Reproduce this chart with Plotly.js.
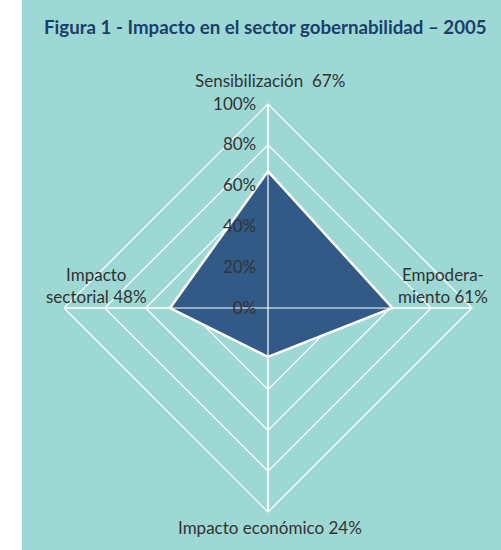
<!DOCTYPE html>
<html>
<head>
<meta charset="utf-8">
<script src="https://cdn.plot.ly/plotly-3.0.1.min.js"></script>
<style>
html,body{margin:0;padding:0;background:#ffffff;}
#chart{position:absolute;left:22px;top:0;width:479px;height:550px;}
</style>
</head>
<body>
<div id="chart"></div>
<script>
var categories = ['Sensibilización', 'Empoderamiento', 'Impacto económico', 'Impacto sectorial'];
var values = [67, 61, 24, 48];
var labelTexts = ['Sensibilización  67%', 'Empodera-<br>miento 61%', 'Impacto económico 24%', 'Impacto<br>sectorial 48%'];
var tickVals = [0, 20, 40, 60, 80, 100];
var tickLabels = ['0%', '20%', '40%', '60%', '80%', '100%'];
var titleText = 'Figura 1 - Impacto en el sector gobernabilidad – 2005';

var teal = '#9dd8d5';
var fillBlue = '#325a87';
var textColor = '#333333';

var traces = [{
  type: 'scatterpolar',
  r: values.concat([values[0]]),
  theta: categories.concat([categories[0]]),
  fill: 'toself',
  fillcolor: fillBlue,
  line: {color: '#ffffff', width: 2.5},
  mode: 'lines',
  hoverinfo: 'skip'
}];
categories.forEach(function (c) {
  traces.push({
    type: 'scatterpolar',
    r: [0, 100],
    theta: [c, c],
    mode: 'lines',
    line: {color: '#ffffff', width: 1.2},
    hoverinfo: 'skip'
  });
});

var cx = 246, cy = 308, R = 204, W = 479, H = 550;
var annPos = [
  {x: 270 - 22, y: 80, xanchor: 'center', yanchor: 'middle', align: 'center'},
  {x: 490 - 22, y: 285, xanchor: 'right', yanchor: 'middle', align: 'center'},
  {x: 270 - 22, y: 527, xanchor: 'center', yanchor: 'middle', align: 'center'},
  {x: 149 - 22, y: 285, xanchor: 'right', yanchor: 'middle', align: 'center'}
];
var annotations = labelTexts.map(function (t, i) {
  var p = annPos[i];
  return {
    text: t, showarrow: false, xref: 'paper', yref: 'paper',
    x: p.x / W, y: 1 - p.y / H, xanchor: p.xanchor, yanchor: p.yanchor, align: p.align,
    font: {family: 'Lato, sans-serif', size: 17, color: textColor}
  };
});

var layout = {
  width: W, height: H,
  margin: {l: 0, r: 0, t: 0, b: 0},
  paper_bgcolor: teal,
  showlegend: false,
  title: {
    text: '<b>' + titleText + '</b>',
    x: 22 / W, xanchor: 'left', y: 1 - 27 / H, yanchor: 'middle',
    font: {family: 'Lato, sans-serif', size: 18.7, color: '#1b3f6a'}
  },
  polar: {
    bgcolor: 'rgba(0,0,0,0)',
    gridshape: 'linear',
    domain: {x: [(cx - R) / W, (cx + R) / W], y: [(H - cy - R) / H, (H - cy + R) / H]},
    angularaxis: {
      rotation: 90, direction: 'clockwise',
      showticklabels: false, ticks: '',
      showline: true, linecolor: '#ffffff', linewidth: 1.2,
      showgrid: true, gridcolor: '#ffffff', gridwidth: 1.2
    },
    radialaxis: {
      range: [0, 100], angle: 90, tickangle: 90,
      tickvals: tickVals,
      ticktext: tickLabels.map(function (t) { return t + '\u00a0\u00a0'; }),
      showline: false, ticks: '',
      showgrid: true, gridcolor: '#ffffff', gridwidth: 1.2,
      side: 'counterclockwise',
      tickfont: {family: 'Lato, sans-serif', size: 17, color: textColor},
      layer: 'above traces'
    }
  },
  annotations: annotations
};

Plotly.newPlot('chart', traces, layout, {displayModeBar: false, staticPlot: true});
</script>
</body>
</html>
